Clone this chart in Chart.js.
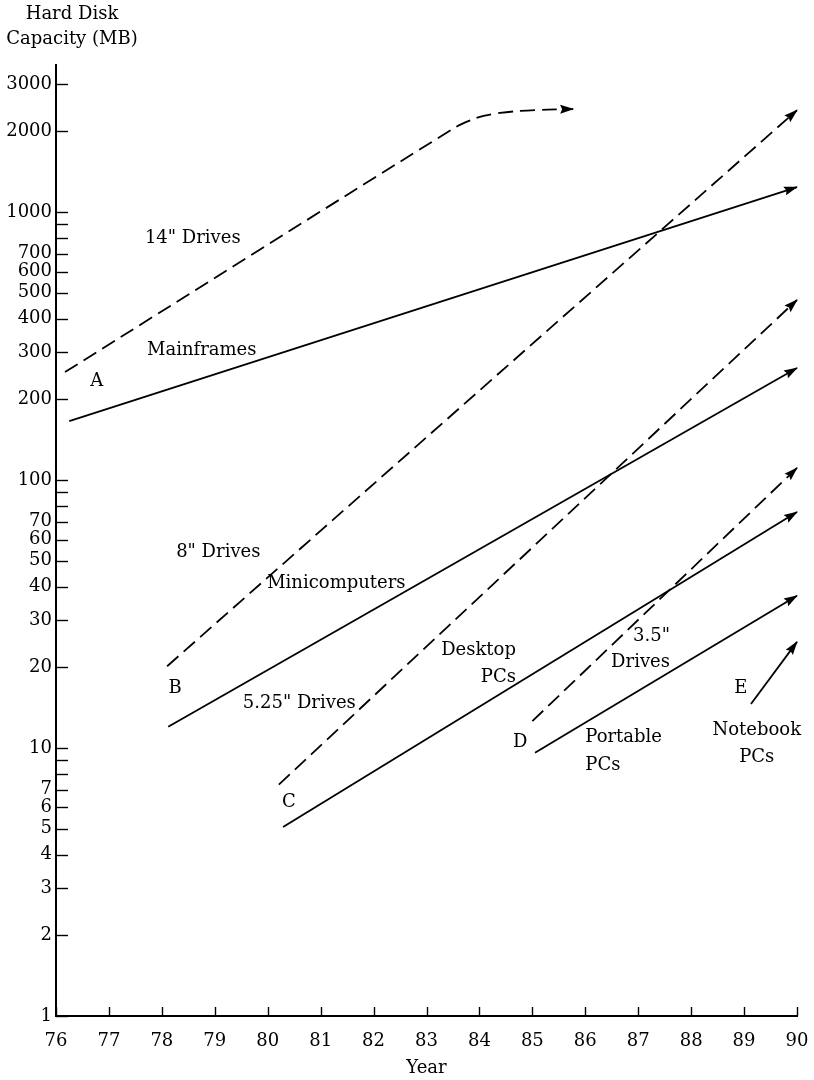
<!DOCTYPE html>
<html>
<head>
<meta charset="utf-8">
<script src="https://cdn.jsdelivr.net/npm/chart.js@4.4.1/dist/chart.umd.min.js"></script>
<style>
  html, body { margin: 0; padding: 0; background: #fff; }
  #wrap { width: 814px; height: 1080px; }
</style>
</head>
<body>
<div id="wrap"><canvas id="chart"></canvas></div>
<script>
(() => {
  const yearTicks = [76, 77, 78, 79, 80, 81, 82, 83, 84, 85, 86, 87, 88, 89, 90];
  const capacityTicks = [1, 2, 3, 4, 5, 6, 7, 8, 9, 10, 20, 30, 40, 50, 60, 70, 80, 90,
    100, 200, 300, 400, 500, 600, 700, 800, 900, 1000, 2000, 3000];
  const unlabeledTicks = [8, 9, 80, 90, 800, 900];

  // year / MB points
  const drives14 = [{x: 76.17, y: 253}, {x: 83.55, y: 2075}, {x: 83.86, y: 2214}, {x: 84.1, y: 2292},
    {x: 84.39, y: 2345}, {x: 84.77, y: 2386}, {x: 85.28, y: 2413}, {x: 85.77, y: 2424}];
  const mainframes = [{x: 76.25, y: 166}, {x: 90, y: 1240}];
  const drives8 = [{x: 78.1, y: 20.2}, {x: 90, y: 2400}];
  const minicomputers = [{x: 78.12, y: 12}, {x: 90, y: 262}];
  const drives525 = [{x: 80.21, y: 7.3}, {x: 90, y: 470}];
  const desktopPCs = [{x: 80.29, y: 5.07}, {x: 90, y: 76}];
  const drives35 = [{x: 85, y: 12.6}, {x: 90, y: 111}];
  const portablePCs = [{x: 85.05, y: 9.6}, {x: 90, y: 37}];
  const notebookPCs = [{x: 89.13, y: 14.6}, {x: 90, y: 24.9}];

  const notes = [
    {text: '14" Drives', x: 77.68, y: 800, align: 'left'},
    {text: 'Mainframes', x: 77.72, y: 305, align: 'left'},
    {text: 'A', x: 76.77, y: 234, align: 'center'},
    {text: '8" Drives', x: 78.27, y: 53.9, align: 'left'},
    {text: 'Minicomputers', x: 79.99, y: 41.3, align: 'left'},
    {text: 'B', x: 78.25, y: 16.7, align: 'center'},
    {text: '5.25" Drives', x: 79.53, y: 14.7, align: 'left'},
    {text: 'Desktop', x: 84.69, y: 23.2, align: 'right'},
    {text: 'PCs', x: 84.69, y: 18.4, align: 'right'},
    {text: 'C', x: 80.4, y: 6.29, align: 'center'},
    {text: 'D', x: 84.77, y: 10.5, align: 'center'},
    {text: 'Portable', x: 86.0, y: 11.0, align: 'left'},
    {text: 'PCs', x: 86.0, y: 8.64, align: 'left'},
    {text: '3.5"', x: 87.6, y: 26.2, align: 'right'},
    {text: 'Drives', x: 87.6, y: 20.9, align: 'right'},
    {text: 'E', x: 88.94, y: 16.7, align: 'center'},
    {text: 'Notebook', x: 89.24, y: 11.6, align: 'center'},
    {text: 'PCs', x: 89.24, y: 9.26, align: 'center'}
  ];

  const FONT = 'DejaVu Serif';
  const DASH = [15, 7];

  function line(label, data, dashed, tension) {
    return {
      label,
      data,
      borderColor: '#000',
      borderWidth: 1.8,
      borderDash: dashed ? DASH : [],
      borderJoinStyle: 'round',
      pointRadius: 0,
      fill: false,
      clip: false,
      tension: tension || 0
    };
  }

  const decor = {
    id: 'decor',
    afterDatasetsDraw(chart) {
      const ctx = chart.ctx;
      chart.data.datasets.forEach((ds, i) => {
        const pts = chart.getDatasetMeta(i).data;
        const a = pts[pts.length - 2], b = pts[pts.length - 1];
        const ang = Math.atan2(b.y - a.y, b.x - a.x);
        const len = 13, half = 4.5;
        ctx.save();
        ctx.translate(b.x, b.y);
        ctx.rotate(ang);
        ctx.fillStyle = '#000';
        ctx.beginPath();
        ctx.moveTo(1, 0);
        ctx.lineTo(-len, -half);
        ctx.lineTo(-len + 2, 0);
        ctx.lineTo(-len, half);
        ctx.closePath();
        ctx.fill();
        ctx.restore();
      });
    },
    afterDraw(chart) {
      const {ctx, chartArea, scales: {x, y}} = chart;
      ctx.save();
      ctx.strokeStyle = '#000';
      ctx.lineWidth = 1.4;
      // inward tick marks
      y.ticks.forEach(t => {
        const py = Math.round(y.getPixelForValue(t.value)) + 0.5;
        ctx.beginPath();
        ctx.moveTo(chartArea.left, py);
        ctx.lineTo(chartArea.left + 12, py);
        ctx.stroke();
      });
      x.ticks.forEach(t => {
        const px = Math.round(x.getPixelForValue(t.value)) + 0.5;
        ctx.beginPath();
        ctx.moveTo(px, chartArea.bottom);
        ctx.lineTo(px, chartArea.bottom - 9);
        ctx.stroke();
      });
      // curve labels
      ctx.fillStyle = '#000';
      ctx.font = '18px "' + FONT + '"';
      ctx.textBaseline = 'middle';
      notes.forEach(n => {
        ctx.textAlign = n.align;
        ctx.fillText(n.text, x.getPixelForValue(n.x), y.getPixelForValue(n.y));
      });
      // y axis title
      ctx.textAlign = 'center';
      ctx.fillText('Hard Disk', 72, 14);
      ctx.fillText('Capacity (MB)', 72, 39);
      ctx.restore();
    }
  };

  const tickFont = {family: FONT, size: 18};

  new Chart(document.getElementById('chart'), {
    type: 'line',
    data: {
      datasets: [
        line('14" Drives', drives14, true, 0.3),
        line('Mainframes', mainframes, false),
        line('8" Drives', drives8, true),
        line('Minicomputers', minicomputers, false),
        line('5.25" Drives', drives525, true),
        line('Desktop PCs', desktopPCs, false),
        line('3.5" Drives', drives35, true),
        line('Portable PCs', portablePCs, false),
        line('Notebook PCs', notebookPCs, false)
      ]
    },
    options: {
      responsive: true,
      maintainAspectRatio: false,
      animation: false,
      layout: {padding: {top: 65, right: 17, left: 0, bottom: 0}},
      plugins: {legend: {display: false}, tooltip: {enabled: false}},
      scales: {
        x: {
          type: 'linear',
          min: 76,
          max: 90,
          afterBuildTicks: s => { s.ticks = yearTicks.map(v => ({value: v})); },
          afterFit: s => { s.height = 64; s.paddingLeft = 0; s.paddingRight = 0; },
          grid: {drawOnChartArea: false, drawTicks: false},
          border: {display: true, color: '#000', width: 2},
          ticks: {color: '#000', font: tickFont, padding: 15, autoSkip: false, maxRotation: 0,
            callback: v => String(v)},
          title: {display: true, text: 'Year', color: '#000', font: tickFont, padding: {top: 0, bottom: 1}}
        },
        y: {
          type: 'logarithmic',
          min: 1,
          max: 3540,
          afterBuildTicks: s => { s.ticks = capacityTicks.map(v => ({value: v})); },
          afterFit: s => { s.width = 56; s.paddingTop = 0; s.paddingBottom = 0; },
          grid: {drawOnChartArea: false, drawTicks: false},
          border: {display: true, color: '#000', width: 2},
          ticks: {color: '#000', font: tickFont, padding: 4, autoSkip: false,
            callback: v => unlabeledTicks.includes(v) ? '' : String(v)}
        }
      }
    },
    plugins: [decor]
  });
})();
</script>
</body>
</html>
